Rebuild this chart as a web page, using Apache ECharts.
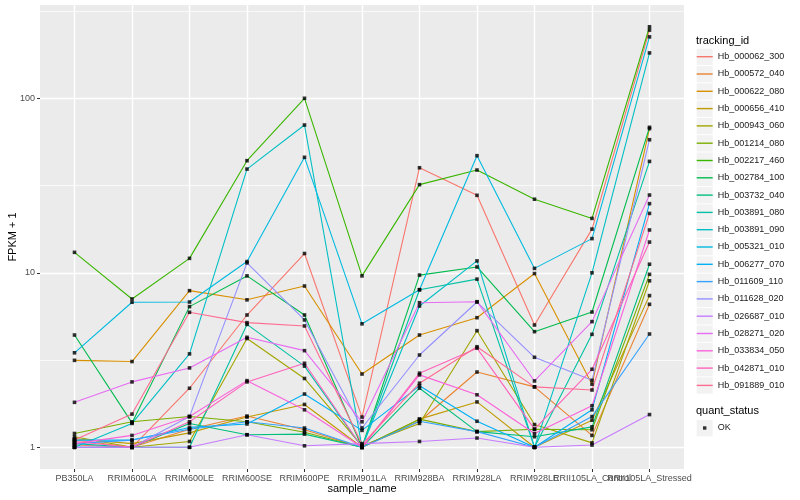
<!DOCTYPE html>
<html>
<head>
<meta charset="utf-8">
<script src="https://cdn.jsdelivr.net/npm/echarts@6/dist/echarts.min.js"></script>
<style>html,body{margin:0;padding:0;background:#fff}#chart{width:800px;height:500px}</style>
</head>
<body>
<div id="chart"></div>
<script>
// ---- data ----
const categories = ['PB350LA','RRIM600LA','RRIM600LE','RRIM600SE','RRIM600PE','RRIM901LA','RRIM928BA','RRIM928LA','RRIM928LE','RRII105LA_Control','RRII105LA_Stressed'];
const trackingIds = ['Hb_000062_300','Hb_000572_040','Hb_000622_080','Hb_000656_410','Hb_000943_060','Hb_001214_080','Hb_002217_460','Hb_002784_100','Hb_003732_040','Hb_003891_080','Hb_003891_090','Hb_005321_010','Hb_006277_070','Hb_011609_110','Hb_011628_020','Hb_026687_010','Hb_028271_020','Hb_033834_050','Hb_042871_010','Hb_091889_010'];
const yTickLabels = [1, 10, 100];
const yMinorBreaks = [3.162, 31.62, 316.2];
const quantStatus = ['OK'];

const hb_000062_300 = [1.03, 1.0, 2.18, 5.73, 12.9, 1.49, 40, 27.8, 5.02, 17.8, 246];
const hb_000572_040 = [1.1, 1.0, 1.27, 1.51, 1.26, 1.0, 1.41, 2.7, 2.22, 1.17, 6.6];
const hb_000622_080 = [3.15, 3.1, 7.9, 7.0, 8.4, 2.63, 4.4, 5.53, 9.9, 2.3, 67];
const hb_000656_410 = [1.12, 1.05, 1.21, 1.49, 1.76, 1.0, 1.45, 1.82, 1.0, 1.43, 7.4];
const hb_000943_060 = [1.15, 1.0, 1.08, 4.2, 2.48, 1.02, 1.37, 4.66, 1.35, 1.06, 9.0];
const hb_001214_080 = [1.2, 1.4, 1.5, 1.4, 1.22, 1.0, 1.45, 1.23, 1.27, 1.26, 9.8];
const hb_002217_460 = [13.1, 7.08, 12.1, 43.9, 100, 9.6, 32, 38.8, 26.4, 20.5, 257];
const hb_002784_100 = [4.4, 1.38, 6.4, 9.6, 5.73, 1.0, 9.7, 10.8, 4.6, 5.96, 68.2];
const hb_003732_040 = [1.0, 1.0, 1.37, 1.18, 1.19, 1.0, 2.18, 1.23, 1.15, 1.31, 11.2];
const hb_003891_080 = [1.05, 1.0, 1.0, 5.06, 2.92, 1.0, 8.0, 9.2, 1.0, 4.44, 43.5];
const hb_003891_090 = [1.0, 1.37, 3.43, 39.3, 70.3, 1.0, 6.45, 11.7, 1.0, 10.0, 182];
const hb_005321_010 = [3.48, 6.78, 6.8, 11.6, 45.9, 5.1, 8.0, 46.9, 10.6, 15.7, 225];
const hb_006277_070 = [1.1, 1.1, 1.3, 1.36, 2.02, 1.25, 2.25, 1.41, 1.0, 1.64, 24.9];
const hb_011609_110 = [1.05, 1.1, 1.27, 1.4, 1.29, 1.0, 1.41, 1.23, 1.0, 1.5, 4.46];
const hb_011628_020 = [1.0, 1.0, 1.5, 11.4, 5.37, 1.29, 3.38, 6.8, 3.28, 2.42, 57.9];
const hb_026687_010 = [1.0, 1.0, 1.0, 1.18, 1.02, 1.05, 1.08, 1.13, 1.0, 1.03, 1.54];
const hb_028271_020 = [1.81, 2.37, 2.85, 4.27, 3.58, 1.4, 6.74, 6.83, 2.4, 5.25, 27.9];
const hb_033834_050 = [1.05, 1.17, 1.5, 2.41, 1.64, 1.0, 2.6, 2.0, 1.2, 1.73, 17.6];
const hb_042871_010 = [1.08, 1.0, 1.4, 2.37, 3.03, 1.0, 2.66, 3.7, 1.27, 2.8, 15];
const hb_091889_010 = [1.1, 1.55, 5.94, 5.18, 4.96, 1.04, 2.33, 3.77, 2.22, 2.13, 21.9];

const seriesValues = [hb_000062_300, hb_000572_040, hb_000622_080, hb_000656_410, hb_000943_060,
  hb_001214_080, hb_002217_460, hb_002784_100, hb_003732_040, hb_003891_080, hb_003891_090,
  hb_005321_010, hb_006277_070, hb_011609_110, hb_011628_020, hb_026687_010, hb_028271_020,
  hb_033834_050, hb_042871_010, hb_091889_010];

// ---- style ----
const palette = ['#F8766D','#EA8331','#D89000','#C09B00','#A3A500','#7CAE00','#39B600','#00BB4E','#00BF7D','#00C1A3','#00BFC4','#00BAE0','#00B0F6','#35A2FF','#9590FF','#C77CFF','#E76BF3','#FA62DB','#FF62BC','#FF6C91'];
const FONT = 'Liberation Sans, Arial, Helvetica, sans-serif';
const yMin = 0.751, yMax = 342.5;
const xMin = -0.6, xMax = categories.length - 0.4;
const legendTop = 48.7, legendStep = 17.3, legendLeft = 696.7;
const catIndex = categories.map((c, i) => i);
// blank labels at the panel edges keep every real category label visible
const xLabelValues = [xMin].concat(catIndex, [xMax]);

const chart = echarts.init(document.getElementById('chart'), null, {renderer: 'canvas'});

const lineSeries = trackingIds.map((id, i) => ({
  type: 'line', name: id,
  data: seriesValues[i].map((v, j) => [catIndex[j], v]),
  symbol: 'none', showSymbol: false,
  lineStyle: {color: palette[i], width: 1.1},
  itemStyle: {color: palette[i]},
  z: 3, silent: true
}));

const pointData = [];
seriesValues.forEach(vals => vals.forEach((v, j) => pointData.push([catIndex[j], v])));

const pointSeries = {
  type: 'scatter', name: quantStatus[0], data: pointData,
  symbol: 'rect', symbolSize: 3.6,
  itemStyle: {color: '#000'}, z: 5, silent: true
};

const keyBoxes = trackingIds.map((id, i) => ({
  type: 'rect', z: 1,
  shape: {x: legendLeft, y: legendTop + i * legendStep, width: 16, height: 16.3},
  style: {fill: '#F2F2F2'}
}));
keyBoxes.push({type: 'rect', z: 1, shape: {x: legendLeft, y: 420, width: 16, height: 16.3}, style: {fill: '#F2F2F2'}});

const option = {
  animation: false,
  textStyle: {fontFamily: FONT},
  grid: {left: 40, right: 116, top: 5, bottom: 31, show: true, backgroundColor: '#EBEBEB', borderWidth: 0,
         containLabel: false, outerBoundsMode: 'none'},
  xAxis: {
    type: 'value', min: xMin, max: xMax,
    axisLine: {show: false, onZero: false},
    axisTick: {show: true, length: 3, customValues: catIndex, lineStyle: {color: '#333333', width: 1}},
    axisLabel: {customValues: xLabelValues, fontSize: 9, color: '#4D4D4D', margin: 5, fontFamily: FONT,
                hideOverlap: false,
                formatter: v => {
                  const k = Math.round(v);
                  return (Math.abs(v - k) < 1e-6 && categories[k] !== undefined) ? categories[k] : '';
                }},
    splitLine: {show: true, lineStyle: {color: '#FFFFFF', width: 1.4}},
    name: 'sample_name', nameLocation: 'middle', nameGap: 14, nameMoveOverlap: false,
    nameTextStyle: {fontSize: 11, color: '#000', fontFamily: FONT}
  },
  yAxis: [
    {type: 'log', logBase: 10, min: yMin, max: yMax, position: 'left',
     axisLine: {show: false, onZero: false},
     axisTick: {show: true, length: 3, customValues: yTickLabels, lineStyle: {color: '#333333'}},
     axisLabel: {customValues: yTickLabels, fontSize: 9, color: '#4D4D4D', margin: 5, fontFamily: FONT,
                 formatter: v => String(Math.round(v))},
     splitLine: {show: true, lineStyle: {color: '#FFFFFF', width: 1.4}},
     name: 'FPKM + 1', nameLocation: 'middle', nameGap: 22, nameRotate: 90, nameMoveOverlap: false,
     nameTextStyle: {fontSize: 11, color: '#000', fontFamily: FONT}},
    {type: 'log', logBase: 10, min: yMin, max: yMax, position: 'right',
     axisLine: {show: false, onZero: false}, axisTick: {show: false, customValues: yMinorBreaks},
     axisLabel: {show: false}, splitLine: {show: true, lineStyle: {color: '#FFFFFF', width: 0.7}}}
  ],
  legend: [
    {data: trackingIds.map((n, i) => ({name: n, itemStyle: {color: palette[i], borderWidth: 0}})),
     orient: 'vertical', left: legendLeft, top: legendTop, padding: 0,
     itemWidth: 16, itemHeight: 16, itemGap: legendStep - 16,
     icon: 'path://M0,0 M16,16 M0,7.3 L16,7.3 L16,8.7 L0,8.7 Z',
     textStyle: {fontSize: 9, color: '#1A1A1A', fontFamily: FONT},
     selectedMode: false},
    {data: [{name: quantStatus[0], itemStyle: {color: '#000', borderWidth: 0}}],
     orient: 'vertical', left: legendLeft, top: 420, padding: 0,
     itemWidth: 16, itemHeight: 16,
     icon: 'path://M0,0 M16,16 M6.3,6.3 L9.7,6.3 L9.7,9.7 L6.3,9.7 Z',
     textStyle: {fontSize: 9, color: '#1A1A1A', fontFamily: FONT},
     selectedMode: false}
  ],
  graphic: keyBoxes.concat([
    {type: 'text', z: 2, left: 696, top: 35, style: {text: 'tracking_id', fontSize: 11, fill: '#000', fontFamily: FONT}},
    {type: 'text', z: 2, left: 696, top: 405, style: {text: 'quant_status', fontSize: 11, fill: '#000', fontFamily: FONT}}
  ]),
  series: lineSeries.concat([pointSeries])
};
chart.setOption(option);
</script>
</body>
</html>
